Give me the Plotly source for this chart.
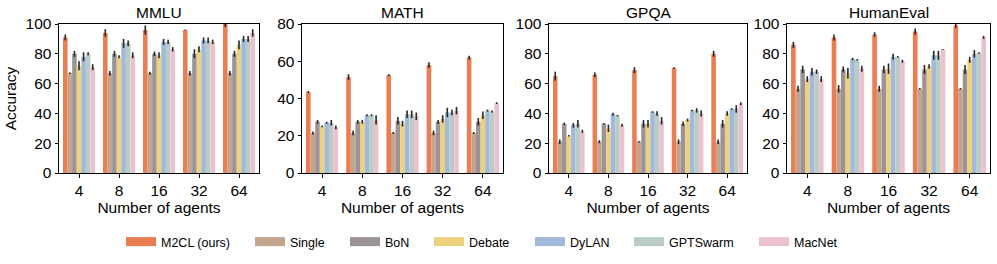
import plotly.graph_objects as go

agents = ["4", "8", "16", "32", "64"]
methods = ["M2CL (ours)", "Single", "BoN", "Debate", "DyLAN", "GPTSwarm", "MacNet"]
colors = ["#EB7D52", "#C3A58D", "#9B9398", "#ECD27F", "#A3B9DA", "#B9CDC6", "#EBC1CE"]
benchmarks = ["MMLU", "MATH", "GPQA", "HumanEval"]
y_max = [100, 80, 100, 100]

mmlu_vals = {
    "M2CL (ours)": [91, 94, 96, 96, 100],
    "Single": [67, 67, 67, 67, 67],
    "BoN": [80, 80, 80, 80, 80],
    "Debate": [72, 78, 79, 83, 86],
    "DyLAN": [78, 87, 88, 89, 90],
    "GPTSwarm": [80, 87, 88, 89, 90],
    "MacNet": [71, 79, 83, 88, 94],
}
mmlu_err = {
    "M2CL (ours)": [2, 2.5, 3, 0.3, 2],
    "Single": [0.5, 1.5, 1, 1.5, 1.5],
    "BoN": [2, 2, 1.5, 3, 2],
    "Debate": [3, 1, 2, 2, 3],
    "DyLAN": [3, 3, 2, 2, 2],
    "GPTSwarm": [1, 2, 1.5, 2, 2],
    "MacNet": [2, 2, 1.5, 1.5, 2.5],
}
math_vals = {
    "M2CL (ours)": [43.5, 51.5, 52.5, 58, 62],
    "Single": [21.5, 21.5, 21.5, 21.5, 21.5],
    "BoN": [27.5, 27.5, 28, 27.5, 27.5],
    "Debate": [25, 27.5, 26.5, 29, 31],
    "DyLAN": [27, 31, 31.5, 32.5, 33.5],
    "GPTSwarm": [27, 31, 31.5, 32.5, 33],
    "MacNet": [24.5, 28.5, 30.5, 33.5, 37.5],
}
math_err = {
    "M2CL (ours)": [0.5, 1.5, 0.5, 1.5, 1],
    "Single": [0.8, 1.2, 0.5, 1.2, 0.5],
    "BoN": [1, 1, 2, 1, 2],
    "Debate": [0.5, 1, 1.5, 2, 2],
    "DyLAN": [0.5, 0.5, 2, 2.5, 0.5],
    "GPTSwarm": [1.5, 0.5, 2, 1.5, 0.5],
    "MacNet": [1, 2.5, 2, 2, 0.5],
}
gpqa_vals = {
    "M2CL (ours)": [65, 66, 69, 70.5, 80],
    "Single": [21, 21, 21, 21, 21],
    "BoN": [33, 33, 33, 33, 33],
    "Debate": [25, 30, 33, 35.5, 40],
    "DyLAN": [32, 39.5, 41, 42, 43],
    "GPTSwarm": [33, 38.5, 40, 42, 43],
    "MacNet": [28, 32, 35, 40, 46.5],
}
gpqa_err = {
    "M2CL (ours)": [3, 1.5, 2, 0.5, 2],
    "Single": [1.5, 1, 0.5, 1.5, 1.5],
    "BoN": [0.8, 0.5, 2.5, 1.5, 2.5],
    "Debate": [0.5, 2.5, 2.5, 1, 1.5],
    "DyLAN": [1.5, 1, 0.5, 0.5, 0.5],
    "GPTSwarm": [2.5, 0.5, 1.5, 1.5, 2.5],
    "MacNet": [1, 1, 2.5, 2, 1],
}
humaneval_vals = {
    "M2CL (ours)": [86, 91, 93, 95, 99],
    "Single": [56.5, 56.5, 56.5, 56.5, 56.5],
    "BoN": [69.5, 69.5, 69.5, 69.5, 69.5],
    "Debate": [63, 67, 70, 71.5, 76],
    "DyLAN": [68, 76.5, 78, 79, 80],
    "GPTSwarm": [68, 76, 78, 79, 80.5],
    "MacNet": [63, 70, 75, 83, 91],
}
humaneval_err = {
    "M2CL (ours)": [2, 2, 1.5, 2, 1.5],
    "Single": [2, 2.5, 2, 0.5, 0.5],
    "BoN": [2.5, 2, 2.5, 3, 3],
    "Debate": [2, 3.5, 3.5, 1.5, 2],
    "DyLAN": [2.5, 0.8, 2, 3, 2.5],
    "GPTSwarm": [1.5, 0.5, 0.5, 3, 0.5],
    "MacNet": [2, 2, 1, 0.3, 1],
}

all_vals = [mmlu_vals, math_vals, gpqa_vals, humaneval_vals]
all_err = [mmlu_err, math_err, gpqa_err, humaneval_err]

W, H = 997, 264
x_dom_px = [(59, 259), (302, 503), (549, 747), (787, 990)]
y_top_px, y_bot_px = 24, 173
y_dom = [1 - y_bot_px / H, 1 - y_top_px / H]
legend_x_px = [126, 255, 350, 434, 535, 634, 759]  # swatch left edges

FONT = "Liberation Sans, Arial, sans-serif"
fig = go.Figure()

for i, (vals, errs) in enumerate(zip(all_vals, all_err)):
    suffix = "" if i == 0 else str(i + 1)
    for m, c in zip(methods, colors):
        fig.add_trace(go.Bar(
            x=agents, y=vals[m], name=m, marker=dict(color=c, line=dict(width=0)),
            error_y=dict(type="data", array=errs[m], color="#262626", thickness=1.6, width=0),
            xaxis="x" + suffix, yaxis="y" + suffix,
            showlegend=False, legendgroup=m,
        ))

# legend proxies (wide flat swatches like the original legend patches)
for k, (m, c) in enumerate(zip(methods, colors)):
    fig.add_trace(go.Scatter(
        x=[None], y=[None], mode="lines", line=dict(color=c, width=9),
        name=m, legendgroup=m, showlegend=True, hoverinfo="skip",
        legend="legend" if k == 0 else "legend%d" % (k + 1),
    ))

layout = dict(
    width=W, height=H, margin=dict(l=0, r=0, t=0, b=0, autoexpand=False),
    paper_bgcolor="white", plot_bgcolor="white",
    barmode="group", bargap=0.2, bargroupgap=0,
    font=dict(family=FONT, color="black", size=15.5),
    annotations=[],
)
for k in range(len(methods)):
    key = "legend" if k == 0 else "legend%d" % (k + 1)
    layout[key] = dict(orientation="h", x=(legend_x_px[k] - 5) / W, xanchor="left",
                       y=1 - 242 / H, yanchor="middle", bgcolor="rgba(0,0,0,0)",
                       font=dict(size=12.5, family=FONT), itemwidth=30)

axis_common = dict(showline=True, linecolor="black", linewidth=1, mirror=True,
                   ticks="outside", ticklen=3.5, tickwidth=1, tickcolor="black",
                   showgrid=False, zeroline=False, tickfont=dict(size=15.5),
                   automargin=False)
for i in range(4):
    suffix = "" if i == 0 else str(i + 1)
    x0, x1 = x_dom_px[i]
    layout["xaxis" + suffix] = dict(axis_common, domain=[x0 / W, x1 / W], anchor="y" + suffix,
                                    type="category", range=[-0.5, 4.5],
                                    title=dict(text="Number of agents", font=dict(size=15.5), standoff=1))
    ydict = dict(axis_common, domain=y_dom, anchor="x" + suffix, range=[0, y_max[i]],
                 dtick=20)
    if i == 0:
        ydict["title"] = dict(text="Accuracy", font=dict(size=15.5), standoff=5)
    layout["yaxis" + suffix] = ydict
    layout["annotations"].append(dict(text=benchmarks[i], x=(x0 + x1) / 2 / W, y=1 - 13 / H,
                                      xref="paper", yref="paper", showarrow=False,
                                      font=dict(size=15.5, family=FONT), xanchor="center", yanchor="middle"))

fig.update_layout(**layout)
fig.write_html("out.html", config={"displayModeBar": False},
               post_script="document.body.style.margin='0px';")
